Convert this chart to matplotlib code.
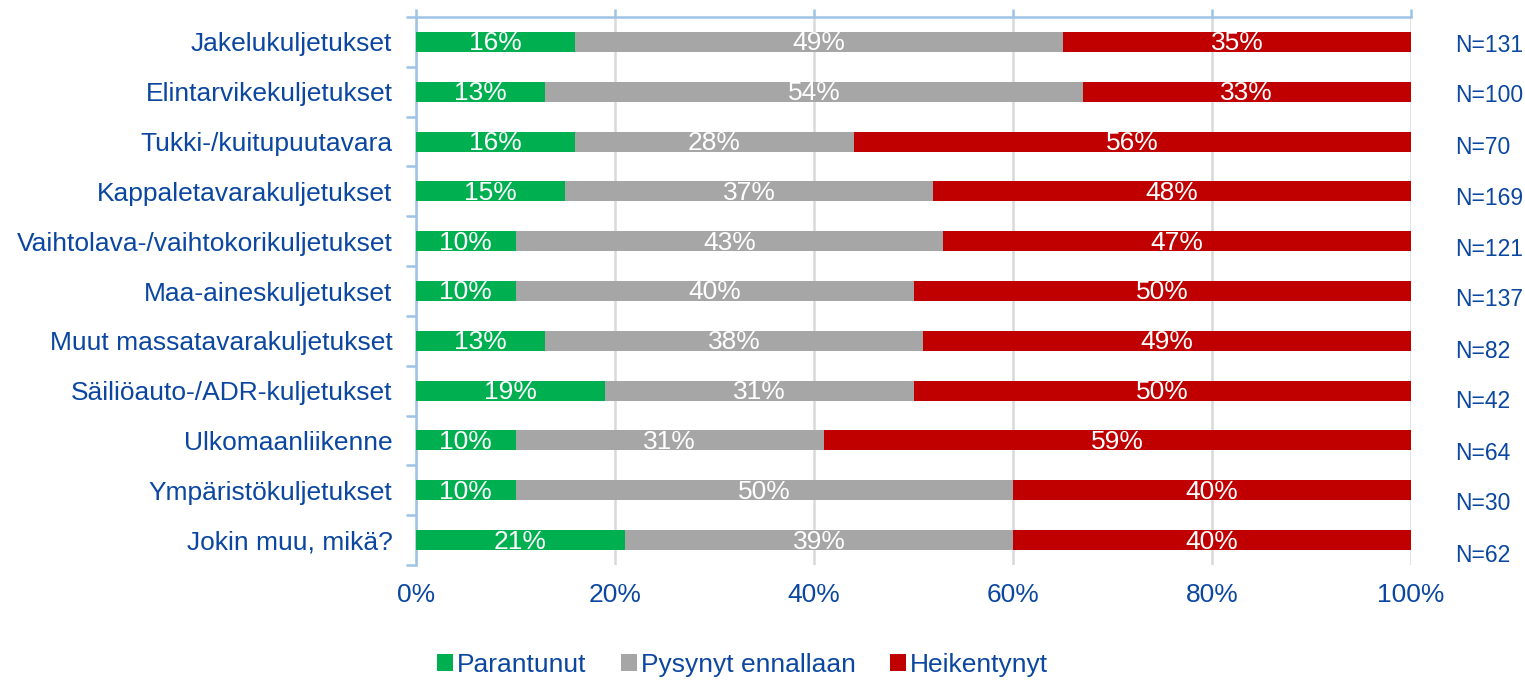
import matplotlib
matplotlib.use("Agg")
import matplotlib.pyplot as plt
from matplotlib.patches import Patch
from matplotlib.ticker import FixedLocator, PercentFormatter
import numpy as np

plt.rcParams['font.family'] = ['Liberation Sans', 'DejaVu Sans']

categories = ["Jakelukuljetukset", "Elintarvikekuljetukset", "Tukki-/kuitupuutavara",
              "Kappaletavarakuljetukset", "Vaihtolava-/vaihtokorikuljetukset",
              "Maa-aineskuljetukset", "Muut massatavarakuljetukset",
              "Säiliöauto-/ADR-kuljetukset", "Ulkomaanliikenne",
              "Ympäristökuljetukset", "Jokin muu, mikä?"]
parantunut = [16, 13, 16, 15, 10, 10, 13, 19, 10, 10, 21]
pysynyt = [49, 54, 28, 37, 43, 40, 38, 31, 31, 50, 39]
heikentynyt = [35, 33, 56, 48, 47, 50, 49, 50, 59, 40, 40]
n_labels = ["N=131", "N=100", "N=70", "N=169", "N=121", "N=137", "N=82",
            "N=42", "N=64", "N=30", "N=62"]
series_names = ["Parantunut", "Pysynyt ennallaan", "Heikentynyt"]
colors = ["#00B050", "#A6A6A6", "#C00000"]
xticks = [0, 20, 40, 60, 80, 100]

text_color = "#0B47A0"
spine_color = "#9DC3E6"

fig = plt.figure(figsize=(15.25, 6.8), dpi=100)
ax = fig.add_axes([416/1525, 1-565/680, (1411-416)/1525, (565-17)/680])

y = np.arange(len(categories))
left = np.zeros(len(categories))
for vals, col in zip([parantunut, pysynyt, heikentynyt], colors):
    vals = np.array(vals, dtype=float)
    bars = ax.barh(y, vals, left=left, height=0.4, color=col, zorder=3)
    for b, v in zip(bars, vals):
        ax.text(b.get_x() + b.get_width()/2, b.get_y() + b.get_height()/2 + 0.03,
                f"{int(v)}%", ha='center', va='center', color='white',
                fontsize=19, zorder=4)
    left += vals

ax.set_xlim(0, 100)
ax.set_ylim(len(categories) - 0.5, -0.5)
ax.set_xticks(xticks)
ax.xaxis.set_major_formatter(PercentFormatter(decimals=0))
ax.grid(axis='x', color='#D9D9D9', linewidth=1.8, zorder=0)
ax.set_axisbelow(True)

for s in ['right', 'bottom']:
    ax.spines[s].set_visible(False)
for s in ['top', 'left']:
    ax.spines[s].set_color(spine_color)
    ax.spines[s].set_linewidth(1.8)

ax.tick_params(axis='x', which='major', top=True, bottom=False, labeltop=False,
               labelbottom=True, direction='out', length=6, width=1.8,
               color=spine_color, labelcolor=text_color, labelsize=19, pad=7)
ax.set_yticks(y)
ax.set_yticklabels(categories)
ax.tick_params(axis='y', which='major', length=0, pad=17, labelsize=19,
               labelcolor=text_color)
ax.yaxis.set_minor_locator(FixedLocator(np.arange(-0.5, len(categories), 1)))
ax.tick_params(axis='y', which='minor', length=7, width=1.8, color=spine_color,
               direction='out')

for i, lab in enumerate(n_labels):
    ypx = 45 + i * 51.0
    fig.text(1455/1525, 1 - ypx/680, lab, ha='left', va='center',
             color=text_color, fontsize=16.5)

handles = [Patch(facecolor=c, edgecolor='none') for c in colors]
fig.legend(handles, series_names, loc='center', bbox_to_anchor=(0.487, 1-665/680),
           ncol=3, frameon=False, fontsize=19, handlelength=0.6, handleheight=0.6,
           handletextpad=0.15, columnspacing=1.3, labelcolor=text_color)

fig.savefig("out.png", dpi=100)
